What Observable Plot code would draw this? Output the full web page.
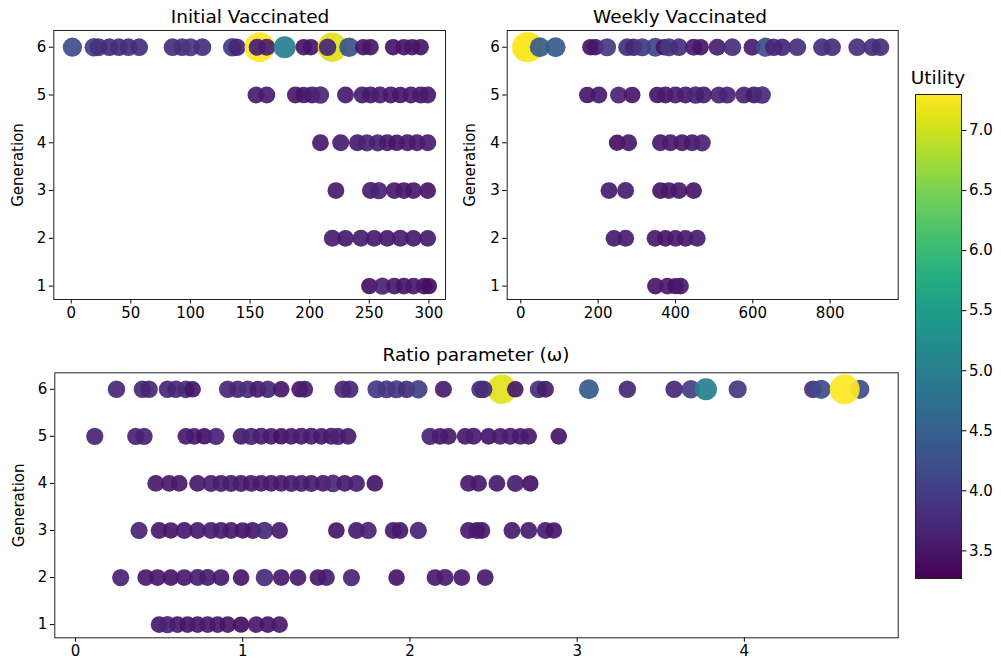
<!DOCTYPE html>
<html>
<head>
<meta charset="utf-8">
<script src="https://cdn.jsdelivr.net/npm/d3@7"></script>
<script src="https://cdn.jsdelivr.net/npm/@observablehq/plot@0.6"></script>
<style>
  body { margin: 0; background: white; }
  #root { position: relative; width: 1001px; height: 664px; background: white; font-family: "DejaVu Sans", sans-serif; }
  .ttl { position: absolute; font-size: 18.5px; line-height: 22px; color: #000; white-space: nowrap; transform: translateX(-50%); }
  #root svg { position: absolute; background: transparent !important; overflow: visible; }
</style>
</head>
<body>
<div id="root">
  <div class="ttl" style="left:250px; top:6px;">Initial Vaccinated</div>
  <div class="ttl" style="left:680px; top:6px;">Weekly Vaccinated</div>
  <div class="ttl" style="left:476px; top:344px;">Ratio parameter (ω)</div>
  <div class="ttl" style="left:938px; top:67px;">Utility</div>
</div>
<script>
const generations = [1, 2, 3, 4, 5, 6];

// Initial Vaccinated: x per generation (1..6) and utility
const initialX = [
  [250, 261, 271, 279, 287, 296, 300],
  [219, 230, 243, 254, 265, 276, 287, 299],
  [222, 251, 258, 271, 279, 287, 299],
  [209, 226, 240, 248, 257, 265, 273, 282, 290, 299],
  [155, 164, 188, 195, 202, 209, 230, 244, 251, 259, 268, 276, 285, 293, 299],
  [1, 19, 23, 32, 40, 48, 57, 85, 93, 100, 110, 135, 139, 158, 156, 164, 179, 195, 201, 219, 215, 233, 245, 251, 270, 279, 286, 293]
];
const initialU = [
  [3.45, 3.65, 3.55, 3.5, 3.55, 3.5, 3.4],
  [3.6, 3.55, 3.6, 3.55, 3.55, 3.6, 3.55, 3.55],
  [3.55, 3.6, 3.65, 3.55, 3.55, 3.55, 3.5],
  [3.55, 3.6, 3.55, 3.65, 3.65, 3.55, 3.5, 3.55, 3.55, 3.6],
  [3.6, 3.6, 3.55, 3.5, 3.55, 3.7, 3.55, 3.6, 3.55, 3.6, 3.55, 3.5, 3.55, 3.55, 3.55],
  [4.2, 4.0, 3.85, 3.8, 3.8, 3.8, 3.8, 3.8, 3.8, 3.9, 3.8, 4.0, 3.7, 7.3, 3.6, 3.6, 5.0, 3.5, 3.5, 7.1, 3.7, 4.3, 3.5, 3.5, 3.5, 3.5, 3.5, 3.5]
];

// Weekly Vaccinated
const weeklyX = [
  [348, 379, 400, 413],
  [241, 271, 347, 374, 400, 426, 456],
  [228, 271, 361, 383, 409, 447],
  [249, 279, 361, 387, 417, 443, 469],
  [172, 202, 253, 288, 353, 374, 400, 426, 452, 473, 512, 534, 577, 603, 624],
  [20, 16, 49, 90, 180, 193, 223, 275, 292, 314, 348, 370, 383, 409, 447, 465, 508, 547, 598, 633, 654, 676, 715, 779, 805, 870, 909, 930]
];
const weeklyU = [
  [3.5, 3.55, 3.45, 3.55],
  [3.55, 3.6, 3.55, 3.5, 3.55, 3.55, 3.6],
  [3.55, 3.6, 3.5, 3.55, 3.55, 3.5],
  [3.45, 3.55, 3.55, 3.6, 3.55, 3.55, 3.65],
  [3.5, 3.55, 3.65, 3.5, 3.5, 3.55, 3.6, 3.6, 3.7, 3.6, 3.65, 3.65, 3.65, 3.55, 3.75],
  [7.1, 7.3, 4.4, 4.4, 3.5, 3.5, 3.9, 3.8, 3.7, 3.9, 4.1, 3.5, 3.9, 3.8, 3.6, 3.5, 3.6, 3.8, 3.6, 4.2, 3.7, 3.7, 3.8, 3.8, 3.8, 3.8, 3.8, 3.8]
];

// Ratio parameter (omega)
const ratioX = [
  [0.50, 0.55, 0.61, 0.67, 0.73, 0.79, 0.85, 0.91, 0.99, 1.08, 1.15, 1.22],
  [0.27, 0.42, 0.49, 0.57, 0.65, 0.73, 0.79, 0.87, 0.99, 1.13, 1.23, 1.33, 1.45, 1.50, 1.65, 1.92, 2.15, 2.21, 2.31, 2.45],
  [0.38, 0.50, 0.57, 0.65, 0.73, 0.81, 0.87, 0.93, 1.00, 1.06, 1.13, 1.22, 1.56, 1.68, 1.75, 1.90, 1.94, 2.05, 2.35, 2.40, 2.43, 2.61, 2.71, 2.81, 2.86],
  [0.48, 0.56, 0.62, 0.73, 0.81, 0.87, 0.93, 0.99, 1.05, 1.11, 1.17, 1.23, 1.29, 1.35, 1.41, 1.48, 1.54, 1.61, 1.68, 1.79, 2.35, 2.41, 2.52, 2.63, 2.72],
  [0.115, 0.36, 0.41, 0.66, 0.71, 0.77, 0.84, 0.99, 1.05, 1.11, 1.17, 1.23, 1.29, 1.35, 1.41, 1.47, 1.53, 1.57, 1.63, 2.12, 2.18, 2.23, 2.33, 2.38, 2.47, 2.54, 2.60, 2.66, 2.71, 2.89],
  [0.245, 0.40, 0.44, 0.55, 0.60, 0.66, 0.70, 0.91, 0.97, 1.03, 1.09, 1.15, 1.23, 1.34, 1.37, 1.60, 1.64, 1.80, 1.86, 1.92, 1.98, 2.05, 2.20, 2.55, 2.42, 2.44, 2.63, 2.77, 2.81, 3.07, 3.30, 3.58, 3.68, 3.77, 3.96, 4.41, 4.46, 4.69, 4.60]
];
const ratioU = [
  [3.55, 3.65, 3.55, 3.5, 3.55, 3.55, 3.55, 3.5, 3.4, 3.55, 3.5, 3.55],
  [3.65, 3.55, 3.55, 3.5, 3.55, 3.6, 3.6, 3.55, 3.5, 3.75, 3.55, 3.55, 3.55, 3.6, 3.65, 3.5, 3.55, 3.6, 3.55, 3.55],
  [3.65, 3.55, 3.5, 3.55, 3.55, 3.6, 3.6, 3.55, 3.5, 3.55, 3.75, 3.55, 3.5, 3.55, 3.65, 3.55, 3.55, 3.65, 3.55, 3.55, 3.55, 3.55, 3.6, 3.6, 3.5],
  [3.55, 3.55, 3.55, 3.55, 3.6, 3.6, 3.6, 3.6, 3.55, 3.55, 3.55, 3.55, 3.6, 3.6, 3.6, 3.55, 3.75, 3.55, 3.6, 3.5, 3.55, 3.55, 3.55, 3.6, 3.45],
  [3.65, 3.65, 3.65, 3.55, 3.55, 3.45, 3.65, 3.55, 3.65, 3.6, 3.55, 3.45, 3.55, 3.6, 3.6, 3.55, 3.6, 3.65, 3.55, 3.65, 3.55, 3.55, 3.55, 3.6, 3.5, 3.55, 3.6, 3.55, 3.55, 3.5],
  [3.7, 3.7, 3.7, 3.7, 3.7, 3.8, 3.5, 3.7, 3.7, 3.8, 3.6, 3.7, 3.5, 3.5, 3.6, 3.7, 3.7, 3.9, 3.9, 3.9, 3.8, 4.0, 3.6, 7.1, 3.8, 3.8, 3.5, 3.8, 3.6, 4.4, 3.7, 3.7, 4.0, 5.0, 3.9, 3.8, 4.2, 4.2, 7.3]
];

const initialTicks = [0, 50, 100, 150, 200, 250, 300];
const weeklyTicks = [0, 200, 400, 600, 800];
const ratioTicks = [0, 1, 2, 3, 4];
const utilityTicks = [3.5, 4.0, 4.5, 5.0, 5.5, 6.0, 6.5, 7.0];
const utilityDomain = [3.27, 7.3];

const colorOpt = { type: "linear", scheme: "viridis", domain: utilityDomain };
const rOpt = { type: "pow", exponent: 0.8, domain: [0, 7.3], range: [0, 15] };
const baseStyle = { "font-family": "DejaVu Sans, sans-serif", "font-size": "15px", "color": "#000", "background": "transparent" };

function rowsFrom(xs, us) {
  const rows = [];
  generations.forEach((g, i) => xs[i].forEach((x, j) => rows.push({ x, g, u: us[i][j] })));
  return rows;
}

function panel(o) {
  const svg = Plot.plot({
    width: o.width, height: o.height,
    marginLeft: o.ml, marginRight: o.mr, marginTop: o.mt, marginBottom: o.mb,
    style: baseStyle,
    x: { domain: o.xDomain, ticks: o.xTicks, tickSize: 4.5, tickPadding: 3, label: null, tickFormat: d3.format("d") },
    y: { domain: [0.72, 6.35], ticks: generations, tickSize: 4.5, tickPadding: 3, tickFormat: d3.format("d"), label: "Generation", labelAnchor: "center", labelArrow: "none", labelOffset: o.lo },
    color: colorOpt,
    r: rOpt,
    marks: [
      Plot.dot(o.rows, { x: "x", y: "g", r: "u", fill: "u", fillOpacity: 0.92, stroke: "none", sort: null }),
      Plot.frame({ stroke: "#222", strokeWidth: 1 })
    ]
  });
  svg.style.left = o.left + "px";
  svg.style.top = o.top + "px";
  return svg;
}

const root = document.getElementById("root");

root.appendChild(panel({
  rows: rowsFrom(initialX, initialU), xDomain: [-14.6, 313.9], xTicks: initialTicks,
  width: 460, height: 320, ml: 53.3, mr: 15, mt: 30, mb: 21, lo: 41, left: 0, top: 0
}));

root.appendChild(panel({
  rows: rowsFrom(weeklyX, weeklyU), xDomain: [-35.2, 976], xTicks: weeklyTicks,
  width: 450, height: 320, ml: 46.7, mr: 12.3, mt: 30, mb: 21, lo: 43, left: 460, top: 0
}));

root.appendChild(panel({
  rows: rowsFrom(ratioX, ratioU), xDomain: [-0.124, 4.92], xTicks: ratioTicks,
  width: 910, height: 324, ml: 54.3, mr: 12.3, mt: 32.3, mb: 26.7, lo: 41, left: 0, top: 340
}));

// Colorbar
const step = 0.01;
const cbSteps = d3.range(utilityDomain[0], utilityDomain[1], step);
const cb = Plot.plot({
  width: 96, height: 540,
  marginLeft: 10, marginRight: 40, marginTop: 34, marginBottom: 22,
  style: baseStyle,
  x: { axis: null, domain: [0, 1] },
  y: { domain: utilityDomain, ticks: utilityTicks, tickFormat: d3.format(".1f"), axis: "right", tickSize: 4.5, tickPadding: 3, label: null },
  color: colorOpt,
  marks: [
    Plot.rect(cbSteps, { x1: 0, x2: 1, y1: d => d, y2: d => Math.min(d + step * 2, utilityDomain[1]), fill: d => d + step / 2, shapeRendering: "crispEdges" }),
    Plot.frame({ stroke: "#222", strokeWidth: 1 })
  ]
});
cb.style.left = "905px";
cb.style.top = "60px";
root.appendChild(cb);
</script>
</body>
</html>
